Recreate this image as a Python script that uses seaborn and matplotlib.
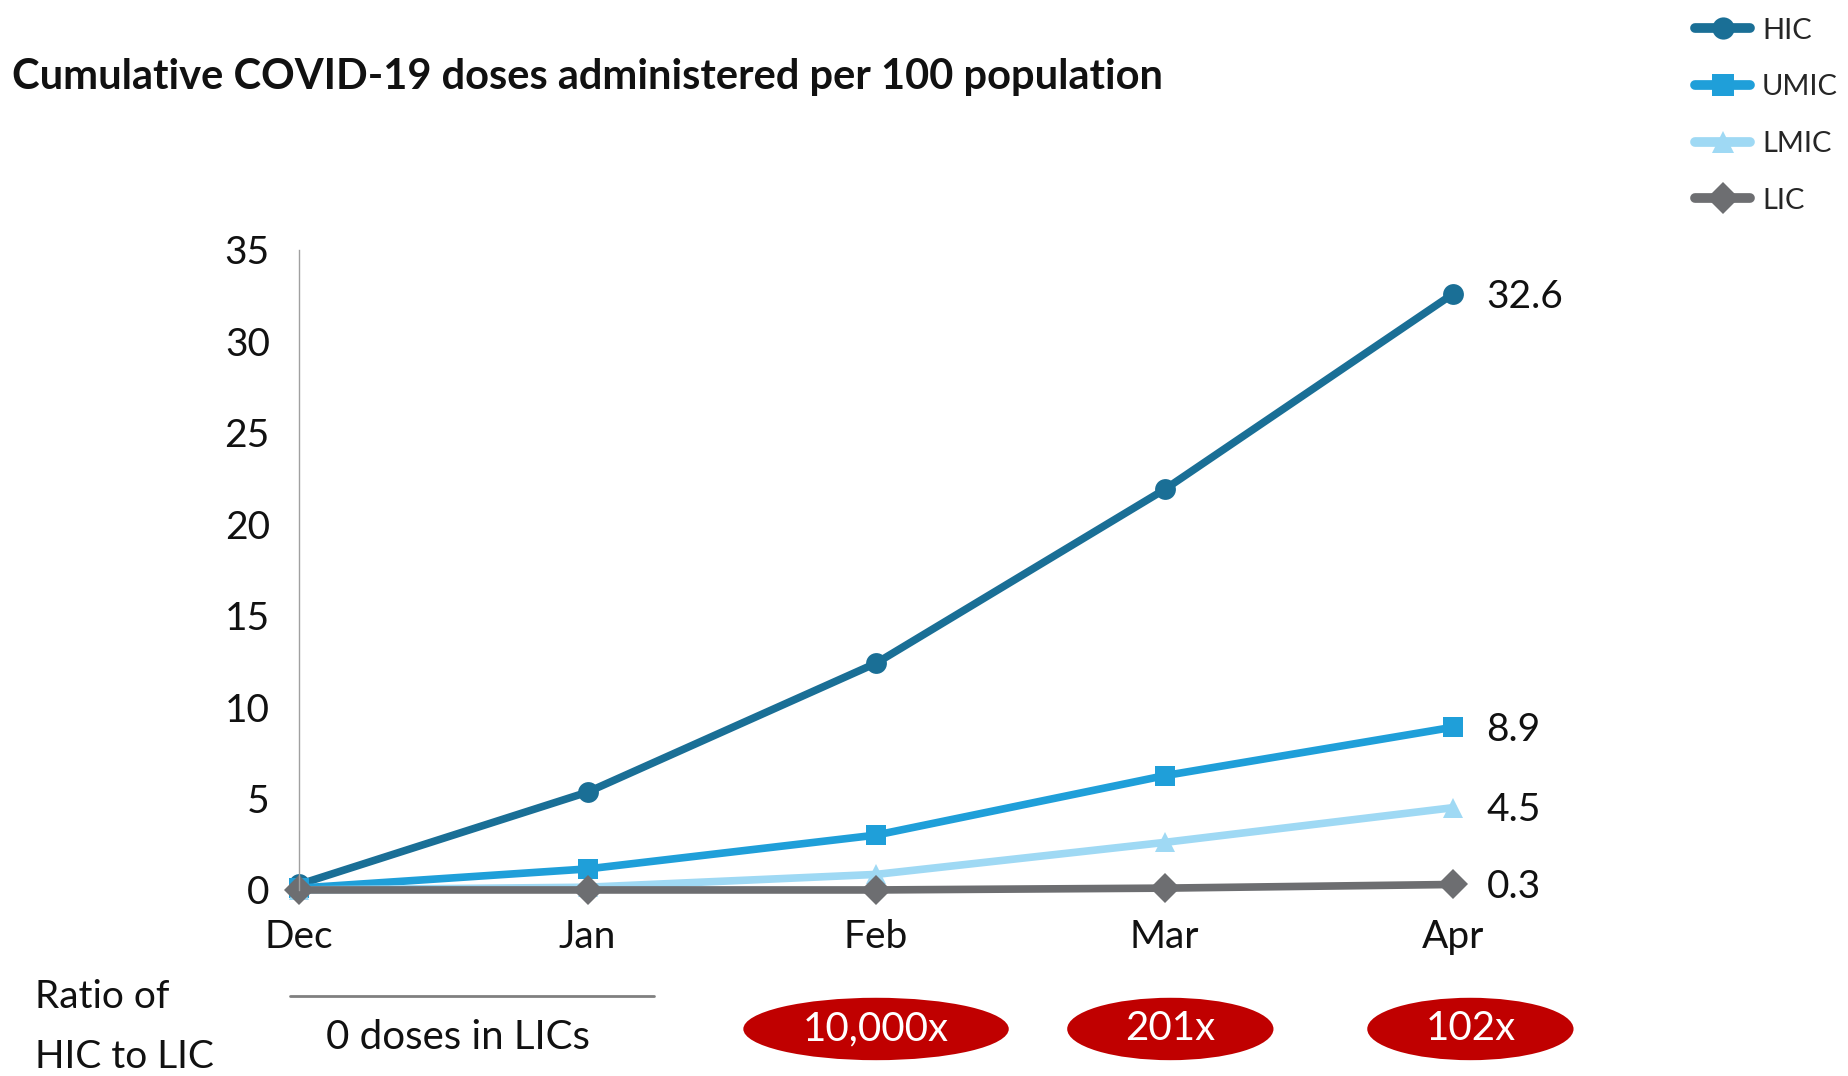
import numpy as np
import pandas as pd
import matplotlib
matplotlib.use("Agg")
import matplotlib.pyplot as plt
import matplotlib.transforms as mtransforms
from matplotlib.patches import Ellipse
import seaborn as sns

# data
months = ["Dec", "Jan", "Feb", "Mar", "Apr"]
groups = ["HIC", "UMIC", "LMIC", "LIC"]
hic = [0.3, 5.35, 12.4, 21.9, 32.6]
umic = [0.1, 1.15, 3.0, 6.25, 8.9]
lmic = [0.0, 0.15, 0.85, 2.6, 4.5]
lic = [0.0, 0.0, 0.0, 0.1, 0.3]
end_labels = ["32.6", "8.9", "4.5", "0.3"]
ratio_labels = ["10,000x", "201x", "102x"]
ratio_pos = [2.0, 3.02, 4.06]

colors = {"HIC": "#1a6f96", "UMIC": "#1f9fd9", "LMIC": "#9fd9f4", "LIC": "#6d6e71"}
markers = {"HIC": "o", "UMIC": "s", "LMIC": "^", "LIC": "D"}

rows = []
for g, vals in zip(groups, [hic, umic, lmic, lic]):
    for i, v in enumerate(vals):
        rows.append({"month": i, "group": g, "value": v})
df = pd.DataFrame(rows)

sns.set_style("white")
plt.rcParams["font.family"] = ["Lato", "DejaVu Sans"]

fig = plt.figure(figsize=(18.48, 10.76), dpi=100)
ax = fig.add_axes([0.1618, 0.1729, 0.6245, 0.5948])

sns.lineplot(data=df, x="month", y="value", hue="group", style="group",
             hue_order=groups, style_order=groups, palette=colors,
             markers=markers, dashes=False, linewidth=5.5, markersize=15,
             markeredgewidth=0, clip_on=False, ax=ax, legend=True)

ax.set_xlim(0, 4)
ax.set_ylim(0, 35)
ax.set_yticks(range(0, 36, 5))
ax.set_xticks(range(len(months)))
ax.set_xticklabels(months)
ax.tick_params(axis="both", length=0, labelsize=28, colors="#111111")
ax.tick_params(axis="y", pad=21)
ax.tick_params(axis="x", pad=21)
ax.set_xlabel("")
ax.set_ylabel("")
for s in ["top", "right", "bottom"]:
    ax.spines[s].set_visible(False)
ax.spines["left"].set_color("#a0a0a0")
ax.spines["left"].set_linewidth(1)

# end-point labels
for vals, lab in zip([hic, umic, lmic, lic], end_labels):
    ax.annotate(lab, (4, vals[-1]), xytext=(24, -2), textcoords="offset points",
                fontsize=28, va="center", ha="left", color="#111111")

# legend at top right
handles, labels = ax.get_legend_handles_labels()
leg = ax.legend(handles, labels, loc="upper left", bbox_to_anchor=(0.903, 1.008),
                bbox_transform=fig.transFigure, frameon=False, fontsize=21,
                handlelength=1.9, labelspacing=1.05, handletextpad=0.4)
for h in leg.legend_handles:
    h.set_markersize(16)
    h.set_linewidth(7)

fig.text(0.0065, 0.928, "Cumulative COVID-19 doses administered per 100 population",
         fontsize=30, fontweight="bold", va="center", ha="left", color="#111111")

# ratio row
blend = mtransforms.blended_transform_factory(ax.transData, fig.transFigure)
fig.text(0.019, 0.073, "Ratio of", fontsize=28, va="center", ha="left", color="#111111")
fig.text(0.019, 0.018, "HIC to LIC", fontsize=28, va="center", ha="left", color="#111111")
ax.plot([-0.03, 1.23], [0.0745, 0.0745], color="#808080", lw=2, transform=blend, clip_on=False)
ax.text(0.55, 0.036, "0 doses in LICs", fontsize=29, ha="center", va="center",
        transform=blend, color="#111111")
widths = [0.92, 0.715, 0.715]
for xp, lab, w in zip(ratio_pos, ratio_labels, widths):
    e = Ellipse((xp, 0.0437), w, 0.058, transform=blend, facecolor="#c00000",
                edgecolor="none", clip_on=False)
    ax.add_patch(e)
    ax.text(xp, 0.0437, lab, fontsize=29, color="white", ha="center", va="center",
            transform=blend)

fig.savefig("out.png", dpi=100)
